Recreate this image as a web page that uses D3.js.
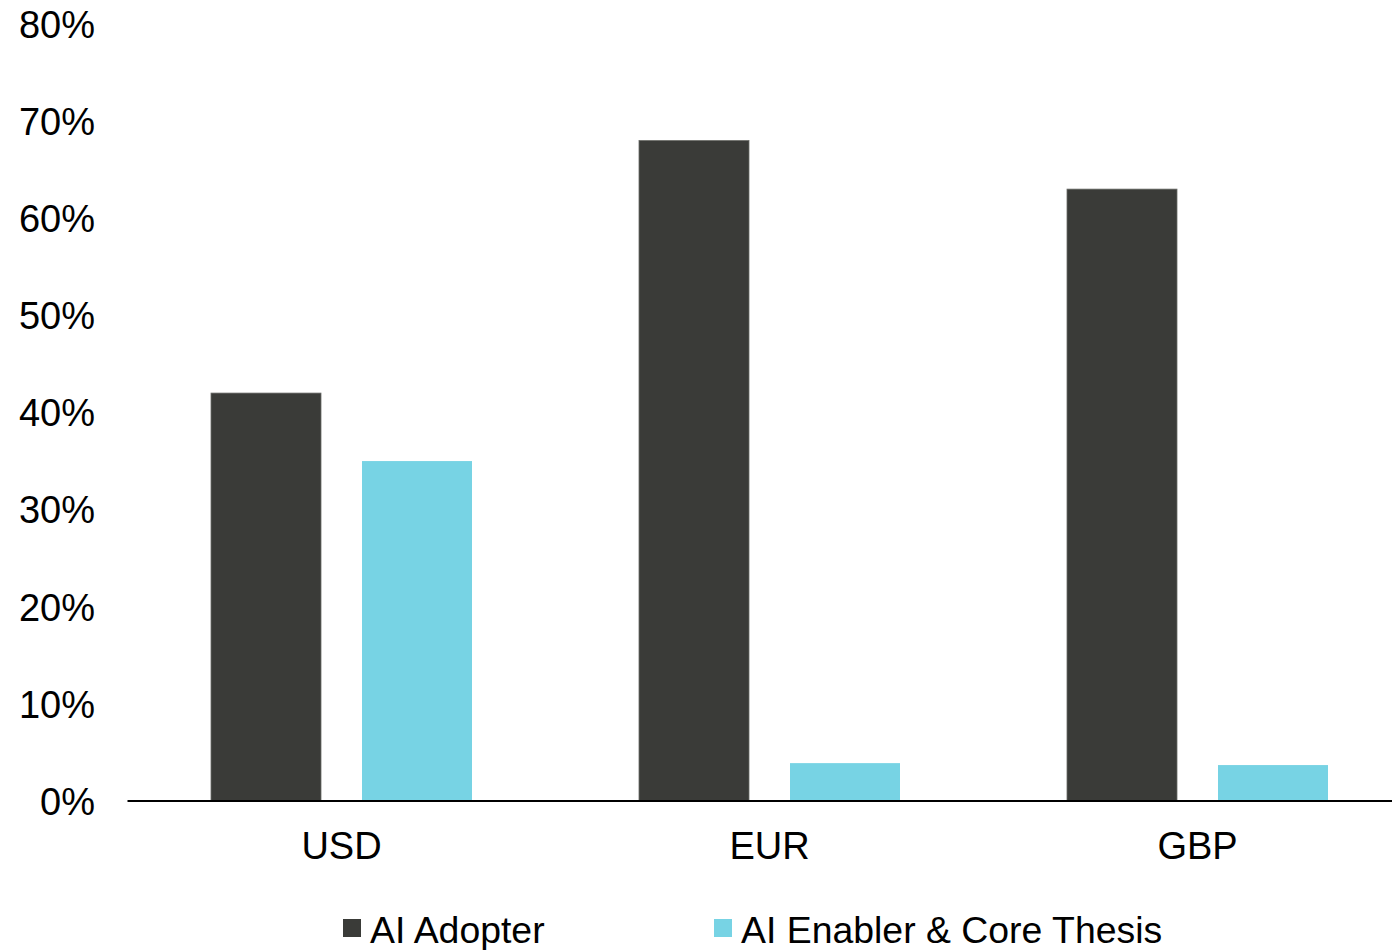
<!DOCTYPE html>
<html>
<head>
<meta charset="utf-8">
<script src="https://cdn.jsdelivr.net/npm/d3@7"></script>
<style>
  html, body { margin: 0; padding: 0; background: #fff; }
  svg { display: block; font-family: "Liberation Sans", Arial, sans-serif; }
</style>
</head>
<body>
<svg id="chart" width="1392" height="950"></svg>
<script>
// Share of holdings by currency and AI theme
const categories = ["USD", "EUR", "GBP"];
const seriesNames = ["AI Adopter", "AI Enabler & Core Thesis"];
const aiAdopter = [0.42, 0.68, 0.63];
const aiEnabler = [0.35, 0.039, 0.037];
const yTicks = [0, 0.1, 0.2, 0.3, 0.4, 0.5, 0.6, 0.7, 0.8];

const colors = ["#3a3b38", "#77d3e4"];
const seriesValues = [aiAdopter, aiEnabler];
const fontSize = 38;
const legendFontSize = 37.4;

const svg = d3.select("#chart");
const x0 = 127.5, x1 = 1411.5, yTop = 24, yBottom = 801;

const x = d3.scaleBand().domain(categories).range([x0, x1]).paddingInner(0).paddingOuter(0);
const groupW = x.bandwidth() * 261 / 428;
const xs = d3.scaleBand().domain(seriesNames)
  .range([0, groupW]).paddingInner(41 / 261 * 2 / (1 + 41 / 261)).paddingOuter(0);
const y = d3.scaleLinear().domain([0, 0.8]).range([yBottom, yTop]);

// y axis labels
const yAxis = d3.axisLeft(y).tickValues(yTicks).tickFormat(d3.format(".0%")).tickSize(0).tickPadding(0);
const yg = svg.append("g").attr("transform", "translate(95,0)").call(yAxis);
yg.select(".domain").remove();
yg.selectAll("text").attr("font-size", fontSize).attr("fill", "#000")
  .attr("font-family", "'Liberation Sans', Arial, sans-serif").attr("dy", "0.35em");

// bars
const groups = svg.append("g").selectAll("g").data(categories).join("g")
  .attr("transform", d => `translate(${x(d) + (x.bandwidth() - groupW) / 2},0)`);

groups.selectAll("rect")
  .data((c, i) => seriesNames.map((s, j) => ({ s, j, v: seriesValues[j][i] })))
  .join("rect")
  .attr("x", d => xs(d.s))
  .attr("width", xs.bandwidth())
  .attr("y", d => y(d.v))
  .attr("height", d => y(0) - y(d.v))
  .attr("fill", d => colors[d.j])
  .attr("stroke", d => d.j === 0 ? "#6a6b68" : "none")
  .attr("stroke-width", 0.8);

// x axis baseline and category labels
const xAxis = d3.axisBottom(x).tickSize(0).tickPadding(0);
const xg = svg.append("g").attr("transform", `translate(0,${yBottom})`).call(xAxis);
xg.select(".domain").attr("d", `M${x0},0H1392`).attr("stroke", "#000").attr("stroke-width", 2);
xg.selectAll("text").attr("font-size", fontSize).attr("fill", "#000")
  .attr("font-family", "'Liberation Sans', Arial, sans-serif")
  .attr("dy", 0).attr("y", 58);

// legend
const legendX = [343, 714];
const legend = svg.append("g").selectAll("g").data(seriesNames).join("g")
  .attr("transform", (d, i) => `translate(${legendX[i]},919)`);
legend.append("rect").attr("width", 18).attr("height", 18).attr("fill", (d, i) => colors[i]);
legend.append("text").attr("x", 27).attr("y", 24).attr("font-size", legendFontSize).attr("fill", "#000")
  .text(d => d);
</script>
</body>
</html>
